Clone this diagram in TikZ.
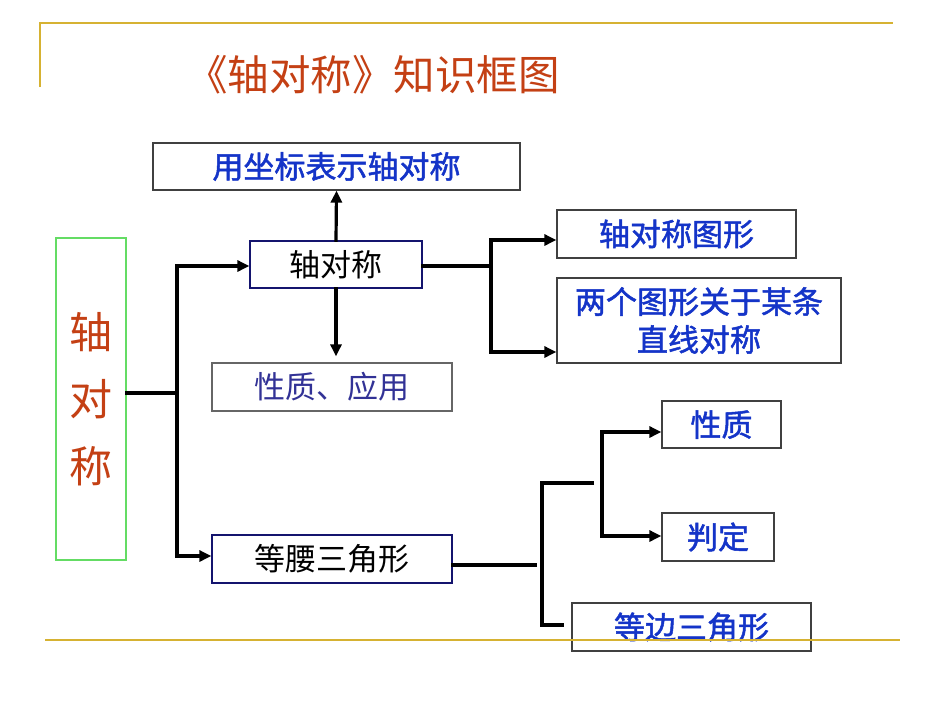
\documentclass[tikz,border=0pt]{standalone}
\usepackage{fontspec}
\setmainfont{Noto Sans CJK SC}
\newfontfamily\cjkb{Noto Sans CJK SC}[FakeBold=1.6]
\usetikzlibrary{arrows.meta}
\definecolor{gold}{RGB}{214,178,50}
\definecolor{titlered}{RGB}{196,64,20}
\definecolor{txtblue}{RGB}{20,52,200}
\definecolor{txtpurple}{RGB}{50,50,150}
\definecolor{navy}{RGB}{20,20,110}
\definecolor{boxgreen}{RGB}{100,220,100}
\tikzset{
  box/.style={draw=black!75, line width=1.3pt, fill=white, inner sep=0pt, align=center,
    font=\fontsize{31}{38}\selectfont},
  bluebox/.style={box, text=txtblue, font=\cjkb\fontsize{31}{38}\selectfont},
  conn/.style={line width=3.2pt, line cap=rect},
  arr/.style={conn, -{Triangle[length=12pt,width=11pt]}}
}
\begin{document}
\begin{tikzpicture}[x=1pt,y=-1pt]
\useasboundingbox (0,0) rectangle (950,713);
\fill[white] (0,0) rectangle (950,713);
% decoration lines
\coordinate (g1) at (40,23);
\coordinate (g2) at (893,23);
\coordinate (g3) at (40,87);
\draw[gold, line width=2.5pt] (g3) -- (g1) -- (g2);
% title
\node[text=titlered, font=\fontsize{41.5}{46}\selectfont, anchor=center] (title) at (373,75) {《轴对称》知识框图};
% boxes
\node[box, minimum width=70, minimum height=322, draw=boxgreen, text=titlered,
  font=\fontsize{43}{67}\selectfont] (L) at (91,399) {轴\\对\\称};
\node[bluebox, minimum width=367, minimum height=47] (b1) at (336.5,166.5) {用坐标表示轴对称};
\node[box, minimum width=172, minimum height=47, draw=navy, text=black] (b2) at (336,264.5) {轴对称};
\node[box, minimum width=240, minimum height=48, draw=black!60, text=txtpurple] (b3) at (332,387) {性质、应用};
\node[box, minimum width=240, minimum height=48, draw=navy, text=black] (b4) at (332,559) {等腰三角形};
\node[bluebox, minimum width=239, minimum height=48] (b5) at (676.5,234) {轴对称图形};
\node[bluebox, minimum width=284, minimum height=85,
  font=\cjkb\fontsize{31}{38}\selectfont] (b6) at (699,320.5) {两个图形关于某条\\直线对称};
\node[bluebox, minimum width=119, minimum height=47] (b7) at (721.5,424.5) {性质};
\node[bluebox, minimum width=112, minimum height=48] (b8) at (718,537) {判定};
\node[bluebox, minimum width=239, minimum height=48] (b9) at (691.5,627) {等边三角形};
% bottom decoration line
\coordinate (g4) at (45,640);
\coordinate (g5) at (900,640);
\draw[gold, line width=2.5pt] (g4) -- (g5);
% connectors from left box
\coordinate (j1) at (177,393);
\draw[conn] (L.east |- j1) -- (j1);
\draw[arr] (j1) |- (b2.west |- 0,266);
\draw[arr] (j1) |- (b4.west |- 0,556);
% from 轴对称 up and down
\draw[arr] (b2.north) -- (b1.south);
\draw[arr, shorten >=6pt] (b2.south) -- (b3.north -| b2.south);
% from 轴对称 right
\coordinate (j2) at (491,266);
\draw[conn] (b2.east |- j2) -- (j2);
\draw[arr] (j2) |- (b5.west |- 0,240);
\draw[arr] (j2) |- (b6.west |- 0,352);
% from 等腰三角形
\coordinate (e1) at (535,565);
\draw[conn] (b4.east |- e1) -- (e1);
\coordinate (k1) at (594,483);
\coordinate (k2) at (542,483);
\coordinate (k3) at (542,625);
\coordinate (k4) at (564,625);
\draw[conn, line cap=butt] (k1) -- (k2) -- (k3) -- (k4);
\coordinate (j3) at (602,432);
\draw[arr] (j3) -- (b7.west |- j3);
\draw[arr] (j3) |- (b8.west |- 0,536);
\end{tikzpicture}
\end{document}
